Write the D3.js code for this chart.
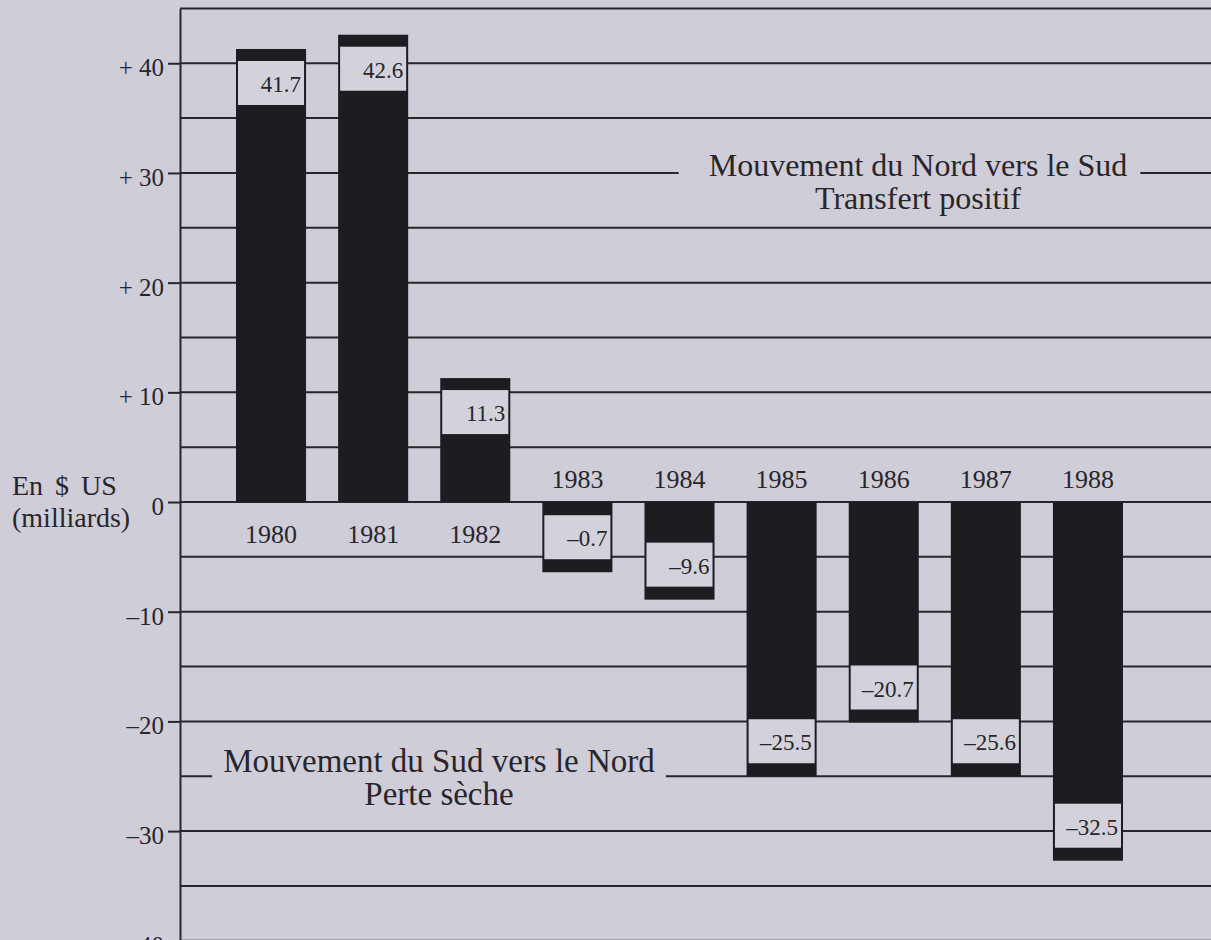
<!DOCTYPE html>
<html>
<head>
<meta charset="utf-8">
<script src="https://cdn.jsdelivr.net/npm/d3@7"></script>
<style>
  html, body { margin: 0; padding: 0; background: #cfcdd8; overflow: hidden; }
  svg { display: block; font-family: "Liberation Serif", "Times New Roman", serif; }
</style>
</head>
<body>
<script>
// values
const years = ["1980", "1981", "1982", "1983", "1984", "1985", "1986", "1987", "1988"];
// bar ends as drawn in the figure
const barValues = [41.3, 42.6, 11.3, -6.4, -8.9, -25.0, -20.1, -25.0, -32.7];
// figures printed in the boxes
const valueLabels = ["41.7", "42.6", "11.3", "–0.7", "–9.6", "–25.5", "–20.7", "–25.6", "–32.5"];
const tickValues = [-40, -30, -20, -10, 0, 10, 20, 30, 40];
const tickLabels = ["–40", "–30", "–20", "–10", "0", "+ 10", "+ 20", "+ 30", "+ 40"];
const gridValues = d3.range(-40, 50, 5);
const legendNorth = ["Mouvement du Nord vers le Sud", "Transfert positif"];
const legendSouth = ["Mouvement du Sud vers le Nord", "Perte sèche"];
const unitLabel = ["En $ US", "(milliards)"];

const width = 1211, height = 940;
const bg = "#cfcdd8", ink = "#28262b", barFill = "#1f1c21", boxFill = "#d3d2db";
const axisX = 180;

const svg = d3.select("body").append("svg")
  .attr("width", width)
  .attr("height", height);

svg.append("rect").attr("width", width).attr("height", height).attr("fill", bg);

const x = d3.scaleBand().domain(years).range([236, 1123]).paddingInner(0.314).paddingOuter(0);
const y = d3.scaleLinear().domain([-40, 45]).range([940.8, 8.4]);

// horizontal rules every 5
svg.append("g").selectAll("line")
  .data(gridValues)
  .join("line")
  .attr("x1", axisX).attr("x2", width)
  .attr("y1", d => y(d)).attr("y2", d => y(d))
  .attr("stroke", ink)
  .attr("stroke-width", 2);

// left axis
const axis = d3.axisLeft(y)
  .tickValues(tickValues)
  .tickSize(12)
  .tickSizeOuter(0)
  .tickPadding(4)
  .tickFormat((d, i) => tickLabels[i]);

const gAxis = svg.append("g")
  .attr("transform", `translate(${axisX},0)`)
  .call(axis)
  .attr("font-family", "Liberation Serif, serif")
  .attr("font-size", 25);
gAxis.select(".domain").attr("stroke", ink).attr("stroke-width", 2);
gAxis.selectAll(".tick line").attr("stroke", ink).attr("stroke-width", 2);
gAxis.selectAll(".tick text").attr("fill", ink).attr("dy", "0.5em");

// legends sitting on a rule, with the rule broken under the text
const legend = (lines, cx, lineValue, dy1, size, padL, padR) => {
  const g = svg.append("g");
  const lineY = y(lineValue);
  const gap = g.append("rect").attr("fill", bg);
  const t = g.selectAll("text")
    .data(lines)
    .join("text")
    .attr("x", cx)
    .attr("y", (d, i) => lineY + dy1 + i * 33)
    .attr("text-anchor", "middle")
    .attr("font-size", size)
    .attr("fill", ink)
    .text(d => d);
  const len = t.node().getComputedTextLength();
  gap.attr("x", cx - len / 2 - padL)
    .attr("width", len + padL + padR)
    .attr("y", lineY - 4)
    .attr("height", 8);
};
legend(legendNorth, 918, 30, 3, 32, 30, 13);
legend(legendSouth, 439, -25, -4, 33, 11, 11);

// bars
const bars = svg.append("g").selectAll("g")
  .data(years.map((yr, i) => ({ yr, v: barValues[i], label: valueLabels[i] })))
  .join("g");

bars.append("rect")
  .attr("x", d => x(d.yr))
  .attr("width", x.bandwidth())
  .attr("y", d => Math.min(y(d.v), y(0)))
  .attr("height", d => Math.abs(y(d.v) - y(0)))
  .attr("fill", barFill);

const boxH = 44;
const boxTop = d => d.v >= 0 ? y(d.v) + 12 : y(d.v) - 13 - boxH;

bars.append("rect")
  .attr("x", d => x(d.yr) + 2)
  .attr("width", x.bandwidth() - 4)
  .attr("y", boxTop)
  .attr("height", boxH)
  .attr("fill", boxFill);

bars.append("text")
  .attr("x", d => x(d.yr) + x.bandwidth() - 5)
  .attr("y", d => boxTop(d) + 31)
  .attr("text-anchor", "end")
  .attr("font-size", 23)
  .attr("fill", ink)
  .text(d => d.label);

// year labels, below zero for gains, above zero for losses
bars.append("text")
  .attr("x", d => x(d.yr) + x.bandwidth() / 2)
  .attr("y", d => d.v >= 0 ? y(0) + 41 : y(0) - 14)
  .attr("text-anchor", "middle")
  .attr("font-size", 26)
  .attr("fill", ink)
  .text(d => d.yr);

// unit label
svg.append("g").selectAll("text")
  .data(unitLabel)
  .join("text")
  .attr("x", 12)
  .attr("y", (d, i) => 495 + i * 32)
  .attr("font-size", 28)
  .attr("word-spacing", (d, i) => i === 0 ? 5 : 0)
  .attr("fill", ink)
  .text(d => d);
</script>
</body>
</html>
